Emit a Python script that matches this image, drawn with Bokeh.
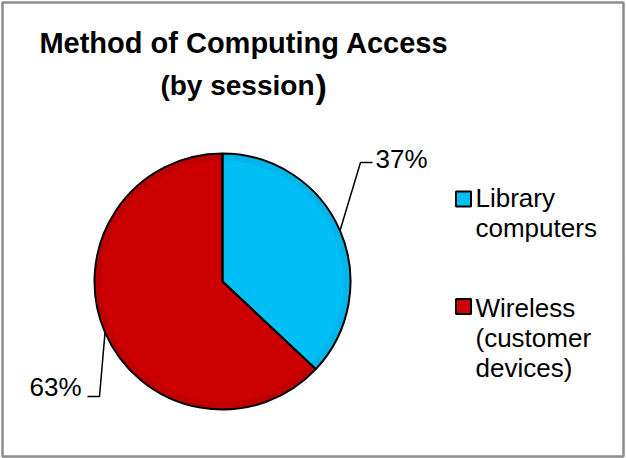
import math
from bokeh.plotting import figure
from bokeh.models import Range1d, ColumnDataSource, Label
from bokeh.embed import file_html
from bokeh.resources import INLINE
from bokeh.core.properties import value

# ---- data ----
categories = ["Library computers", "Wireless (customer devices)"]
shares = [37, 63]
pct_labels = ["37%", "63%"]
legend_lines = [["Library", "computers"], ["Wireless", "(customer", "devices)"]]
colors = ["#00BFF5", "#CC0000"]
edge_colors = ["#0090C0", "#8E0000"]

FONT = "Liberation Sans"
W, H = 626, 458
TDY = 10  # text baseline correction (px)

p = figure(width=W, height=H, output_backend="svg", toolbar_location=None,
           x_range=Range1d(0, W), y_range=Range1d(0, H),
           x_axis_type=None, y_axis_type=None, min_border=0)
p.grid.visible = False
p.outline_line_color = None
p.background_fill_color = "white"
p.border_fill_color = "white"


def Y(yref):
    return H - yref


def TY(yref):
    return H - yref + TDY


# chart-area frame
p.quad(left=2, right=623, bottom=Y(456), top=Y(2), fill_color=None,
       line_color="#8c8c8c", line_width=2.5)

# ---- pie ----
cx, cy, r = 222, Y(281), 128
total = float(sum(shares))
starts, ends, mids = [], [], []
cum = 0.0
for s in shares:
    a0 = math.pi / 2 - 2 * math.pi * cum / total
    a1 = math.pi / 2 - 2 * math.pi * (cum + s) / total
    starts.append(a0)
    ends.append(a1)
    mids.append((a0 + a1) / 2)
    cum += s

src = ColumnDataSource(dict(start=starts, end=ends, color=colors, edge=edge_colors,
                            cat=categories))
p.wedge(x=cx, y=cy, radius=r, start_angle="start", end_angle="end",
        direction="clock", fill_color="color", line_color=None, source=src)
# soft bevel near the rim
p.annular_wedge(x=cx, y=cy, inner_radius=r - 7, outer_radius=r,
                start_angle="start", end_angle="end", direction="clock",
                fill_color="edge", fill_alpha=0.22, line_color=None, source=src)
p.wedge(x=cx, y=cy, radius=r, start_angle="start", end_angle="end",
        direction="clock", fill_color=None, line_color="black", line_width=2,
        source=src)

# ---- leader lines & percentage labels ----
anchors = [(cx + r * math.cos(m), cy + r * math.sin(m)) for m in mids]
elbows = [(360, Y(162)), (99, Y(396))]
line_ends = [(372, Y(162)), (87, Y(396))]
for (ax, ay), (ex, ey), (lx, ly) in zip(anchors, elbows, line_ends):
    p.line([ax, ex, lx], [ay, ey, ly], line_color="black", line_width=1.5)

lab_src = ColumnDataSource(dict(x=[375, 81], y=[TY(168), TY(396)], t=pct_labels,
                                align=["left", "right"]))
p.text(x="x", y="y", text="t", text_align="align", text_baseline="alphabetic",
       text_font=value(FONT), text_font_size="26px", text_color="black",
       source=lab_src)

# ---- legend ----
sq_y = [Y(198.5), Y(306)]
p.rect(x=463, y=sq_y, width=15, height=15, fill_color=colors,
       line_color="black", line_width=2)
first_base = [207, 317]
lx, ly, lt = [], [], []
for lines, b in zip(legend_lines, first_base):
    for i, t in enumerate(lines):
        lx.append(475)
        ly.append(TY(b + 30 * i))
        lt.append(t)
p.text(x=lx, y=ly, text=lt, text_align="left", text_baseline="alphabetic",
       text_font=value(FONT), text_font_size="26px", text_color="black")

# ---- title ----
p.add_layout(Label(x=243.5, y=TY(52), text="Method of Computing Access",
                   text_align="center", text_baseline="alphabetic",
                   text_font=FONT, text_font_size="29px", text_font_style="bold",
                   text_color="black"))
p.add_layout(Label(x=314, y=TY(95), text="(by session",
                   text_align="right", text_baseline="alphabetic",
                   text_font=FONT, text_font_size="28px", text_font_style="bold",
                   text_color="black"))
p.add_layout(Label(x=315, y=TY(95), text=")",
                   text_align="left", text_baseline="alphabetic",
                   text_font=FONT, text_font_size="34px", text_font_style="bold",
                   text_color="black"))

open("out.html", "w").write(file_html(p, INLINE))
